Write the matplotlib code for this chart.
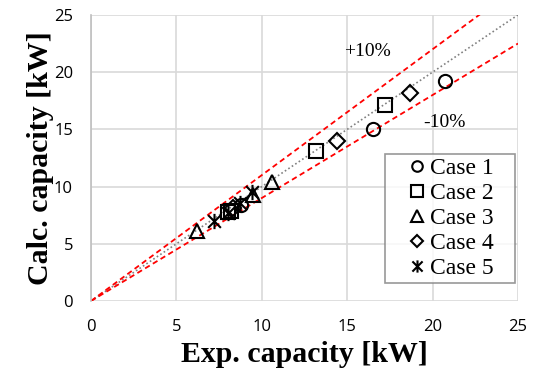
import matplotlib
matplotlib.use("Agg")
import matplotlib.pyplot as plt
from matplotlib.path import Path
import numpy as np

# Experimental vs calculated capacity [kW] for each case
case1_exp = [8.8, 16.5, 20.7]
case1_calc = [8.4, 15.0, 19.2]
case2_exp = [8.0, 8.2, 13.2, 17.2]
case2_calc = [7.8, 7.9, 13.1, 17.1]
case3_exp = [6.2, 9.5, 10.6]
case3_calc = [6.1, 9.3, 10.4]
case4_exp = [8.3, 14.4, 18.7]
case4_calc = [8.1, 14.0, 18.2]
case5_exp = [7.2, 8.0, 8.7, 9.4]
case5_calc = [7.0, 7.7, 8.6, 9.5]

labels = ["Case 1", "Case 2", "Case 3", "Case 4", "Case 5"]
ticks = [0, 5, 10, 15, 20, 25]

# X with a vertical stroke through it
star = Path([(-0.5, -0.5), (0.5, 0.5), (-0.5, 0.5), (0.5, -0.5), (0, -0.6), (0, 0.6)],
            [Path.MOVETO, Path.LINETO, Path.MOVETO, Path.LINETO, Path.MOVETO, Path.LINETO])
markers = ["o", "s", "^", "D", star]
sizes = [9.5, 10, 10.5, 8, 11]

fig = plt.figure(figsize=(5.34, 3.73), dpi=100)
ax = fig.add_axes([0.1704, 0.193, 0.7996, 0.767])

line = np.array([0, 25])
ax.plot(line, line, color="#808080", linestyle=(0, (1, 1.5)), linewidth=1.2, zorder=2)
ax.plot(line, 1.1 * line, color="#ff0000", linestyle=(0, (3, 2)), linewidth=1.3, zorder=2)
ax.plot(line, 0.9 * line, color="#ff0000", linestyle=(0, (3, 2)), linewidth=1.3, zorder=2)

series = [(case1_exp, case1_calc), (case2_exp, case2_calc), (case3_exp, case3_calc),
          (case4_exp, case4_calc), (case5_exp, case5_calc)]
for (xs, ys), lab, m, ms in zip(series, labels, markers, sizes):
    ax.plot(xs, ys, linestyle="none", marker=m, markersize=ms, markerfacecolor="none",
            markeredgecolor="black", markeredgewidth=1.5, label=lab, zorder=3)

ax.text(16.2, 21.8, "+10%", family="Liberation Serif", fontsize=14, ha="center", va="center")
ax.text(20.7, 15.6, "-10%", family="Liberation Serif", fontsize=14, ha="center", va="center")

ax.set_xlim(0, 25)
ax.set_ylim(0, 25)
ax.set_xticks(ticks)
ax.set_yticks(ticks)
ax.grid(True, color="#d9d9d9", linewidth=1.2, zorder=0)
ax.set_axisbelow(True)
for side in ["top", "right", "bottom"]:
    ax.spines[side].set_visible(False)
ax.spines["left"].set_color("#bfbfbf")
ax.spines["left"].set_linewidth(1.2)
ax.tick_params(length=0, labelsize=12, colors="black")
ax.tick_params(axis="x", pad=13)
ax.tick_params(axis="y", pad=13)
for t in ax.get_xticklabels() + ax.get_yticklabels():
    t.set_family("Open Sans")

ax.set_xlabel("Exp. capacity [kW]", family="Liberation Serif", fontweight="bold", fontsize=21.5, labelpad=4)
ax.set_ylabel("Calc. capacity [kW]", family="Liberation Serif", fontweight="bold", fontsize=21.5, labelpad=0)

leg = ax.legend(loc="lower left", bbox_to_anchor=(0.6885, 0.063, 0.3045, 0.4), mode="expand",
                prop={"family": "Liberation Serif", "size": 17},
                frameon=True, fancybox=False, handlelength=2.4, handletextpad=-0.66, markerscale=0.8,
                labelspacing=0.15, borderpad=0.15, borderaxespad=0.0)
leg.get_frame().set_edgecolor("#7f7f7f")
leg.get_frame().set_linewidth(1.2)

fig.savefig("out.png", dpi=100)
